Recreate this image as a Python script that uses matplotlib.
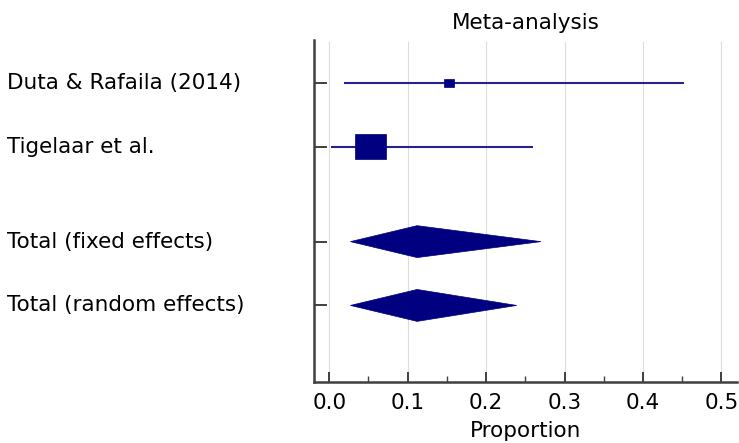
import matplotlib
matplotlib.use("Agg")
import matplotlib.pyplot as plt
from matplotlib.patches import Rectangle, Polygon
from matplotlib.transforms import blended_transform_factory
import numpy as np

# Study-level data (proportion with 95% CI and relative weight in %)
studies = ["Duta & Rafaila (2014)", "Tigelaar et al."]
study_est = [0.153, 0.053]
study_lo = [0.019, 0.002]
study_hi = [0.453, 0.260]
study_weight = [9.8, 90.2]

# Pooled estimates
pooled = ["Total (fixed effects)", "Total (random effects)"]
pooled_est = [0.112, 0.112]
pooled_lo = [0.027, 0.027]
pooled_hi = [0.270, 0.239]

x_ticks = [0.0, 0.1, 0.2, 0.3, 0.4, 0.5]
x_tick_labels = ["0.0", "0.1", "0.2", "0.3", "0.4", "0.5"]

plt.rcParams["font.family"] = ["DejaVu Sans"]
FS = 15.5
NAVY = "#000080"
LINE = "#23238f"
AXC = "#404040"

fig = plt.figure(figsize=(7.39, 4.43), dpi=100)
ax = fig.add_axes([314 / 739, 1 - 382 / 443, (737 - 314) / 739, (382 - 40) / 443])

study_y = [1.0, 2.0]
pooled_y = [3.49, 4.49]

ax.set_xlim(-0.0195, 0.52)
ax.set_ylim(5.69, 0.33)

# vertical grid lines at major ticks
for xv in x_ticks:
    ax.axvline(xv, color="#dcdcdc", lw=0.8, zorder=0, ymax=1 - 2 / 342)

# study confidence intervals and weighted boxes
box_w = 0.00417   # x-units per sqrt(weight)
box_h = 0.0400    # y-units per sqrt(weight)
for y, est, lo, hi, w in zip(study_y, study_est, study_lo, study_hi, study_weight):
    ax.plot([lo, hi], [y, y], color=LINE, lw=1.5, solid_capstyle="butt", zorder=2)
    bw = box_w * np.sqrt(w)
    bh = box_h * np.sqrt(w)
    ax.add_patch(Rectangle((est - bw / 2, y - bh / 2), bw, bh,
                           facecolor=NAVY, edgecolor=NAVY, lw=0.5, zorder=3))

# pooled diamonds
dh = 0.25
for y, est, lo, hi in zip(pooled_y, pooled_est, pooled_lo, pooled_hi):
    ax.add_patch(Polygon([(lo, y), (est, y - dh), (hi, y), (est, y + dh)],
                         closed=True, facecolor=NAVY, edgecolor=NAVY, lw=0.5, zorder=3))

# row labels, left-aligned at the figure edge
trans = blended_transform_factory(fig.transFigure, ax.transData)
for lab, y in zip(studies + pooled, study_y + pooled_y):
    ax.text(7 / 739, y, lab, transform=trans, ha="left", va="center",
            fontsize=FS, color="black", clip_on=False)

ax.set_yticks(study_y + pooled_y)
ax.set_yticklabels([])
ax.tick_params(axis="y", direction="in", length=9.5, width=1.4, color=AXC)

ax.set_xticks(x_ticks)
ax.set_xticklabels(x_tick_labels, fontsize=FS)
ax.set_xticks(np.arange(0.05, 0.5, 0.1), minor=True)
ax.tick_params(axis="x", which="major", direction="in", length=7, width=1.4,
               color=AXC, pad=8)
ax.tick_params(axis="x", which="minor", direction="in", length=4, width=1.0, color=AXC)

for s in ["top", "right"]:
    ax.spines[s].set_visible(False)
for s in ["left", "bottom"]:
    ax.spines[s].set_color(AXC)
    ax.spines[s].set_linewidth(1.8)

ax.set_xlabel("Proportion", fontsize=FS, labelpad=6)
ax.set_title("Meta-analysis", fontsize=FS, pad=8)

fig.savefig("out.png", dpi=100)
